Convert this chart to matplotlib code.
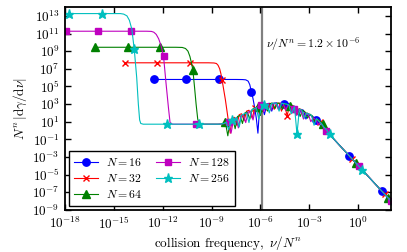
import numpy as np
import matplotlib
matplotlib.use('Agg')
import matplotlib.pyplot as plt
from matplotlib.ticker import FixedLocator, FuncFormatter, NullLocator

plt.rcParams['mathtext.fontset'] = 'cm'
plt.rcParams['font.family'] = 'serif'

# data, as log10 values (x = log10 nu/N^n, y = log10 N^n|dgamma/dnu|)
x16 = [-12.55, -10.55, -8.55, -7.5, -7.1, -6.9, -6.75, -6.65, -6.55, -6.45, -6.35, -6.25,
       -6.15, -6.05, -5.9, -5.75, -5.6, -5.45, -5.3, -5.15, -5.0, -4.85, -4.7, -4.55, -4.4,
       -4.25, -4.1, -3.95, -3.8, -3.65, -3.5, -3.35, -3.2, -3.05, -2.9, -2.75, -2.55, -2.4,
       -2.25, -2.1, -1.95, -1.8, -1.55, -1.05, -0.55, 0.45, 1.45, 2.45]
y16 = [5.79, 5.79, 5.79, 5.79, 5.78, 5.75, 5.6, 5.2, 4.4, 3.6, 2.6, 1.4,
       -0.3, 2.5, 2.9, 1.8, 3.0, 3.1, 2.2, 3.1, 3.15, 2.4, 3.1, 3.0, 3.1,
       3.05, 2.2, 2.8, 2.65, 1.6, 2.4, 2.3, 1.3, 1.9, 1.7, 1.55, 1.15, 0.9,
       0.3, 0.55, 0.0, -0.34, -0.84, -1.84, -2.84, -4.84, -6.84, -8.84]

x32 = [-14.35, -12.35, -10.35, -9.2, -8.85, -8.7, -8.6, -8.5, -8.42, -8.35, -8.25, -8.15,
       -8.05, -7.95, -7.85, -7.75, -7.6, -7.45, -7.3, -7.15, -7.0, -6.85, -6.7, -6.5, -6.35,
       -6.2, -6.05, -5.9, -5.75, -5.6, -5.45, -5.3, -5.15, -5.0, -4.85, -4.7, -4.55, -4.35,
       -4.2, -4.05, -3.9, -3.75, -3.6, -3.45, -3.3, -3.15, -3.0, -2.85, -2.7, -2.5, -2.35,
       -2.2, -2.05, -1.9, -1.75, -1.35, -0.35, 0.65, 1.65, 2.65]
y32 = [7.68, 7.68, 7.68, 7.68, 7.66, 7.6, 7.4, 7.0, 6.4, 5.7, 4.6, 3.5,
       2.2, 0.9, -0.3, 1.3, 1.5, 0.6, 1.8, 1.9, 1.1, 2.2, 2.3, 1.4, 2.5,
       2.7, 1.9, 2.9, 2.95, 2.3, 3.05, 3.1, 2.4, 3.1, 3.1, 2.2, 3.05, 1.7,
       2.95, 2.85, 2.7, 1.8, 2.5, 2.3, 1.5, 2.0, 1.85, 1.65, 1.1, 1.25, 1.0,
       0.7, 0.3, 0.1, -0.44, -1.24, -3.24, -5.24, -7.24, -9.24]

x64 = [-16.15, -14.15, -12.15, -11.2, -10.8, -10.6, -10.45, -10.33, -10.24, -10.15, -10.05,
       -9.95, -9.85, -9.75, -9.2, -8.6, -8.4, -8.15, -8.0, -7.85, -7.7, -7.55, -7.4, -7.25,
       -7.1, -6.95, -6.8, -6.65, -6.5, -6.3, -6.15, -6.0, -5.85, -5.7, -5.55, -5.4, -5.25,
       -5.1, -4.95, -4.8, -4.65, -4.5, -4.35, -4.15, -4.0, -3.85, -3.7, -3.55, -3.4, -3.25,
       -3.1, -2.95, -2.8, -2.65, -2.5, -2.3, -2.15, -2.0, -1.85, -1.15, -0.15, 0.85, 1.85, 2.85]
y64 = [9.44, 9.44, 9.44, 9.44, 9.42, 9.3, 9.0, 8.4, 7.7, 6.9, 5.0,
       3.0, 1.3, 0.72, 0.72, 0.72, 0.74, 0.95, -0.6, 1.2, 1.4, 0.2, 1.6, 1.7,
       0.8, 2.0, 2.1, 1.3, 2.4, 2.6, 2.7, 1.7, 2.9, 2.95, 2.2, 3.05, 3.1,
       2.5, 3.1, 3.1, 2.4, 3.05, 2.95, 2.8, 2.0, 2.65, 2.5, 1.6, 2.3, 2.1,
       1.4, 1.85, 1.65, 1.0, 1.3, 1.0, 0.75, 0.1, -0.2, -1.64, -3.64, -5.64, -7.64, -9.64]

x128 = [-17.95, -15.95, -13.95, -13.0, -12.7, -12.55, -12.4, -12.25, -12.1, -11.95, -11.8,
        -11.65, -11.55, -11.4, -9.95, -8.6, -8.3, -7.95, -7.8, -7.65, -7.5, -7.35, -7.2,
        -7.05, -6.9, -6.75, -6.6, -6.45, -6.3, -6.1, -5.95, -5.8, -5.65, -5.5, -5.35, -5.2,
        -5.05, -4.9, -4.75, -4.6, -4.45, -4.3, -4.1, -3.95, -3.8, -3.65, -3.5, -3.35, -3.2,
        -3.05, -2.9, -2.75, -2.6, -2.45, -2.3, -2.1, -1.95, -1.8, -0.95, 0.05, 1.05, 2.05, 3.05]
y128 = [11.26, 11.26, 11.26, 11.26, 11.24, 11.15, 10.9, 10.4, 9.6, 8.4, 5.4,
        2.6, 0.9, 0.72, 0.72, 0.72, 0.76, 0.92, -0.3, 1.25, 1.4, 0.3, 1.65,
        1.8, 0.9, 2.1, 2.2, 1.2, 2.55, 2.75, 2.95, 2.1, 3.0, 3.05, 2.3, 3.1,
        3.1, 2.4, 3.1, 3.05, 2.3, 2.9, 2.7, 2.39, 1.7, 2.35, 2.2, 1.3, 1.95,
        1.85, 1.0, 1.45, 1.25, 0.7, 0.9, 0.3, -0.07, -0.34, -2.04, -4.04, -6.04, -8.04, -10.04]

x256 = [-19.75, -17.75, -15.75, -14.6, -14.4, -14.2, -14.05, -13.9, -13.75, -13.6, -13.5,
        -13.42, -13.35, -13.2, -11.75, -9.75, -8.5, -8.25, -8.1, -7.95, -7.75, -7.6, -7.45,
        -7.3, -7.15, -7.0, -6.85, -6.7, -6.55, -6.4, -6.25, -6.1, -5.9, -5.75, -5.6, -5.45,
        -5.3, -5.15, -5.0, -4.85, -4.7, -4.55, -4.4, -4.25, -4.1, -3.9, -3.75, -3.6, -3.45,
        -3.3, -3.15, -3.0, -2.85, -2.7, -2.55, -2.4, -2.25, -2.1, -1.9, -1.75, -0.75, 0.25,
        1.25, 2.25, 3.25]
y256 = [13.26, 13.26, 13.26, 13.26, 13.2, 13.0, 12.5, 11.5, 9.2, 6.0, 3.0,
        1.2, 0.8, 0.72, 0.72, 0.72, 0.72, 0.8, 0.95, 0.1, 1.2, 1.35, 1.5,
        0.4, 1.75, 1.9, 2.0, 0.9, 2.3, 2.45, 2.6, 1.3, 2.85, 2.95, 3.0, 2.0,
        3.1, 3.1, 3.1, 2.2, 3.1, 3.05, 3.0, 2.9, 1.9, 2.7, -0.4, 2.45, 2.3,
        1.4, 2.0, 1.85, 1.7, 0.6, 1.35, 1.05, 0.8, 0.4, 0.0, -0.44, -2.44, -4.44,
        -6.44, -8.44, -10.44]

labels = ['$N = 16$', '$N = 32$', '$N = 64$', '$N = 128$', '$N = 256$']
nu_mark = 1.2e-6


def marker_indices(x, step=2.0):
    x = np.asarray(x)
    targets = np.arange(x[0], x[-1] + 1e-9, step)
    return sorted(set(int(np.argmin(np.abs(x - t))) for t in targets))


fig, ax = plt.subplots(figsize=(4.07, 2.52), dpi=100)
fig.subplots_adjust(left=0.16, right=0.9595, top=0.972, bottom=0.167)

series = [
    (x16, y16, 'b', 'o', 5.3),
    (x32, y32, 'r', 'x', 5.0),
    (x64, y64, 'g', '^', 5.5),
    (x128, y128, 'm', 's', 4.8),
    (x256, y256, 'c', '*', 6.5),
]
for (x, y, c, m, ms), lab in zip(series, labels):
    ax.plot(10.0 ** np.array(x), 10.0 ** np.array(y), color=c, lw=0.8,
            marker=m, ms=ms, mec=c, mfc=c, mew=1.0,
            markevery=marker_indices(x), label=lab)

ax.axvline(nu_mark, color='0.5', lw=1.6, zorder=0)
ax.text(10 ** -5.65, 10 ** 9.75, r'$\nu/N^n = 1.2\times10^{-6}$', fontsize=8.5, va='center')

ax.set_xscale('log')
ax.set_yscale('log')
ax.set_xlim(1e-18, 1e2)
ax.set_ylim(1e-9, 1e14)
ax.xaxis.set_major_locator(FixedLocator([10.0 ** k for k in range(-18, 3, 3)]))
ax.yaxis.set_major_locator(FixedLocator([10.0 ** k for k in range(-9, 14, 2)]))
ax.xaxis.set_minor_locator(NullLocator())
ax.yaxis.set_minor_locator(NullLocator())
fmt = FuncFormatter(lambda v, p: r'$10^{%d}$' % int(round(np.log10(v))))
ax.xaxis.set_major_formatter(fmt)
ax.yaxis.set_major_formatter(fmt)
ax.tick_params(which='both', direction='in', top=True, right=True, length=4, width=1,
               labelsize=9.5, pad=4)
for s in ax.spines.values():
    s.set_linewidth(1.3)

ax.set_xlabel(r'$\mathrm{collision\ frequency},\ \nu/N^n$', fontsize=9.5, labelpad=2)
ax.set_ylabel(r'$N^n\,|\mathrm{d}\gamma/\mathrm{d}\nu|$', fontsize=9.5, labelpad=2)

leg = ax.legend(loc='lower left', ncol=2, fontsize=8.5, numpoints=1, fancybox=False,
                edgecolor='black', framealpha=1, handlelength=2.0, columnspacing=1.2,
                borderaxespad=0.35, handletextpad=0.7, labelspacing=0.25)
leg.get_frame().set_linewidth(1.0)

fig.savefig('out.png', dpi=100)
